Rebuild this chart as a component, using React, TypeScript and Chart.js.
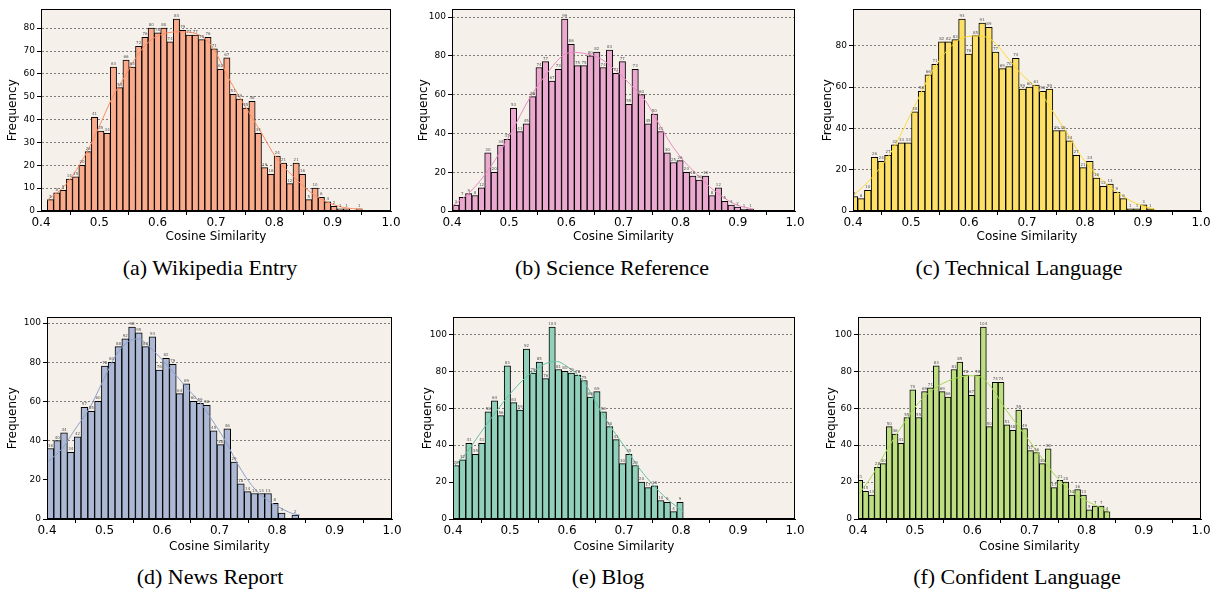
import React, { useEffect, useRef } from 'react';
import { Chart, registerables } from 'chart.js';
Chart.register(...registerables);

// ---------- shared tick labels ----------
const xTickValues = [0.4, 0.5, 0.6, 0.7, 0.8, 0.9, 1.0];
const yTicksWiki = [0, 10, 20, 30, 40, 50, 60, 70, 80];
const yTicksScience = [0, 20, 40, 60, 80, 100];
const yTicksTechnical = [0, 20, 40, 60, 80];
const yTicksNews = [0, 20, 40, 60, 80, 100];
const yTicksBlog = [0, 20, 40, 60, 80, 100];
const yTicksConfident = [0, 20, 40, 60, 80, 100];

// ---------- (a) Wikipedia Entry ----------
const wikiBinStart = 0.4108;
const wikiBinWidth = 0.0108;
const wikiCounts = [5, 8, 9, 14, 15, 20, 26, 41, 35, 34, 63, 54, 66, 63, 72, 76, 80, 78, 80, 74, 84, 79, 77, 77, 75, 76, 71, 62, 67, 51, 49, 45, 48, 34, 19, 16, 24, 21, 12, 21, 16, 5, 10, 6, 4, 2, 1, 1, 0, 1];
const wikiKdeX = [0.411, 0.444, 0.477, 0.499, 0.522, 0.544, 0.565, 0.587, 0.610, 0.638, 0.667, 0.693, 0.724, 0.747, 0.776, 0.804, 0.833, 0.861, 0.890, 0.918, 0.951];
const wikiKdeY = [4.8, 12, 25, 36.5, 49.5, 59, 68, 74.5, 77.5, 78.4, 77.5, 72, 57, 47, 35, 23, 15, 8.4, 4, 1.6, 0.7];

// ---------- (b) Science Reference ----------
const sciBinStart = 0.4012;
const sciBinWidth = 0.0112;
const sciCounts = [3, 7, 9, 8, 12, 30, 20, 34, 37, 53, 41, 45, 59, 74, 77, 67, 73, 99, 86, 75, 75, 80, 82, 74, 83, 71, 77, 55, 73, 60, 45, 50, 41, 30, 25, 26, 20, 18, 16, 18, 8, 12, 5, 3, 2, 1, 1];
const sciKdeX = [0.401, 0.432, 0.467, 0.502, 0.536, 0.571, 0.595, 0.612, 0.630, 0.659, 0.694, 0.711, 0.738, 0.758, 0.781, 0.805, 0.828, 0.851, 0.869, 0.898, 0.927];
const sciKdeY = [2.6, 9.9, 22.6, 39.6, 58.3, 72.8, 80.4, 81.8, 81.3, 78.7, 70.5, 65.5, 57, 47, 35.5, 26, 19, 12.4, 8.2, 3.1, 1];

// ---------- (c) Technical Language ----------
const techBinStart = 0.3965;
const techBinWidth = 0.0116;
const techCounts = [7, 6, 10, 26, 24, 27, 32, 33, 33, 48, 58, 66, 71, 82, 82, 83, 93, 76, 85, 91, 89, 77, 69, 70, 74, 59, 60, 61, 58, 59, 39, 39, 34, 27, 21, 24, 16, 12, 13, 9, 6, 1, 1, 3, 1];
const techKdeX = [0.398, 0.433, 0.467, 0.502, 0.536, 0.571, 0.594, 0.617, 0.640, 0.663, 0.688, 0.722, 0.745, 0.771, 0.791, 0.814, 0.837, 0.860, 0.883, 0.906, 0.921];
const techKdeY = [6.7, 16.3, 29.1, 48.3, 67.5, 80.3, 84.3, 84.8, 82.7, 75.5, 67, 57.9, 48, 37, 27.5, 19.5, 13.1, 8.3, 4.3, 1.9, 0.8];

// ---------- (d) News Report ----------
const newsBinStart = 0.4;
const newsBinWidth = 0.01183;
const newsCounts = [36, 40, 44, 34, 42, 57, 55, 60, 78, 80, 88, 92, 98, 95, 88, 93, 76, 82, 79, 64, 69, 60, 59, 58, 45, 38, 46, 29, 18, 14, 13, 13, 13, 8, 3, 0, 2];
const newsKdeX = [0.402, 0.426, 0.449, 0.473, 0.496, 0.519, 0.542, 0.560, 0.577, 0.600, 0.623, 0.646, 0.670, 0.686, 0.710, 0.733, 0.756, 0.779, 0.802, 0.826, 0.840];
const newsKdeY = [29.4, 35.8, 45.9, 56.1, 69.6, 83.1, 90.7, 91.9, 88.2, 81.4, 73.8, 66, 58, 51, 40, 27.4, 17.2, 10.5, 6.3, 2.9, 2];

// ---------- (e) Blog ----------
const blogBinStart = 0.4;
const blogBinWidth = 0.01122;
const blogCounts = [29, 32, 41, 35, 41, 58, 64, 56, 83, 63, 59, 92, 79, 85, 76, 104, 81, 80, 79, 78, 75, 66, 69, 58, 50, 43, 30, 35, 29, 20, 17, 18, 10, 9, 4, 9];
const blogKdeX = [0.400, 0.424, 0.453, 0.483, 0.512, 0.541, 0.570, 0.582, 0.600, 0.629, 0.658, 0.681, 0.705, 0.728, 0.751, 0.775, 0.804];
const blogKdeY = [28.1, 36.1, 48.7, 61.2, 71.9, 80, 85, 85.3, 82.6, 74.6, 59, 48, 37.5, 27, 18.5, 11, 4];

// ---------- (f) Confident Language ----------
const confBinStart = 0.3979;
const confBinWidth = 0.0103;
const confCounts = [21, 15, 13, 28, 30, 50, 46, 41, 55, 70, 55, 69, 71, 83, 69, 66, 81, 85, 78, 67, 78, 104, 50, 74, 74, 51, 48, 59, 49, 37, 36, 30, 38, 17, 21, 20, 13, 16, 13, 5, 7, 7, 4];
const confKdeX = [0.400, 0.425, 0.448, 0.477, 0.506, 0.535, 0.564, 0.594, 0.611, 0.634, 0.657, 0.680, 0.704, 0.727, 0.750, 0.774, 0.797, 0.815, 0.841];
const confKdeY = [12.9, 23.6, 36.1, 50.4, 63, 71, 75.5, 77.6, 77.3, 71, 60, 50.4, 40.6, 30.8, 21.8, 14.7, 10.2, 7.5, 3.9];

const captions = [
  '(a) Wikipedia Entry',
  '(b) Science Reference',
  '(c) Technical Language',
  '(d) News Report',
  '(e) Blog',
  '(f) Confident Language',
];

// ---------- styling / layout ----------
const PLOT_BG = '#f5f0ea';
const FONT = 'DejaVu Sans';

type Spec = {
  counts: number[];
  binStart: number;
  binWidth: number;
  kdeX: number[];
  kdeY: number[];
  yTicks: number[];
  fill: string;
  line: string;
  L: number; R: number; T: number; B: number;
  yTitleX: number; xTitleY: number;
};

const specs: Spec[] = [
  { counts: wikiCounts, binStart: wikiBinStart, binWidth: wikiBinWidth, kdeX: wikiKdeX, kdeY: wikiKdeY, yTicks: yTicksWiki,
    fill: 'rgb(250,171,139)', line: '#fc8d62', L: 41, R: 391, T: 8, B: 211, yTitleX: 14, xTitleY: 236 },
  { counts: sciCounts, binStart: sciBinStart, binWidth: sciBinWidth, kdeX: sciKdeX, kdeY: sciKdeY, yTicks: yTicksScience,
    fill: 'rgb(235,169,207)', line: '#e78ac3', L: 452, R: 795, T: 8, B: 211, yTitleX: 425, xTitleY: 236 },
  { counts: techCounts, binStart: techBinStart, binWidth: techBinWidth, kdeX: techKdeX, kdeY: techKdeY, yTicks: yTicksTechnical,
    fill: 'rgb(252,224,103)', line: '#ffd92f', L: 853, R: 1201, T: 8, B: 211, yTitleX: 829, xTitleY: 236 },
  { counts: newsCounts, binStart: newsBinStart, binWidth: newsBinWidth, kdeX: newsKdeX, kdeY: newsKdeY, yTicks: yTicksNews,
    fill: 'rgb(172,184,212)', line: '#8da0cb', L: 47, R: 392, T: 316, B: 519, yTitleX: 14, xTitleY: 546 },
  { counts: blogCounts, binStart: blogBinStart, binWidth: blogBinWidth, kdeX: blogKdeX, kdeY: blogKdeY, yTicks: yTicksBlog,
    fill: 'rgb(145,208,186)', line: '#66c2a5', L: 453, R: 795, T: 316, B: 519, yTitleX: 429, xTitleY: 546 },
  { counts: confCounts, binStart: confBinStart, binWidth: confBinWidth, kdeX: confKdeX, kdeY: confKdeY, yTicks: yTicksConfident,
    fill: 'rgb(190,223,129)', line: '#a6d854', L: 858, R: 1201, T: 316, B: 519, yTitleX: 833, xTitleY: 546 },
];

const captionPos = [
  { cx: 210, cy: 268 }, { cx: 612, cy: 268 }, { cx: 1019, cy: 268 },
  { cx: 210, cy: 577 }, { cx: 608, cy: 577 }, { cx: 1017, cy: 577 },
];

function Panel({ spec }: { spec: Spec }) {
  const ref = useRef<HTMLCanvasElement>(null);
  const left = spec.yTitleX - 8;
  const top = spec.T - 6;
  const width = spec.R + 12 - left;
  const height = spec.xTitleY + 8 - top;
  const yW = spec.L - left;
  const xH = spec.xTitleY + 8 - spec.B;

  useEffect(() => {
    if (!ref.current) return;
    const bars = spec.counts.map((c, i) => ({ x: spec.binStart + (i + 0.5) * spec.binWidth, y: c }));
    const kde = spec.kdeX.map((x, i) => ({ x, y: spec.kdeY[i] }));
    const yMax = Math.max(...spec.counts) * 1.05;

    const bgPlugin = {
      id: 'plotBg',
      beforeDraw(chart: any) {
        const { ctx, chartArea: a } = chart;
        ctx.save();
        ctx.fillStyle = PLOT_BG;
        ctx.fillRect(a.left, a.top, a.right - a.left, a.bottom - a.top);
        ctx.restore();
      },
    };
    const labelPlugin = {
      id: 'barLabels',
      afterDatasetsDraw(chart: any) {
        const { ctx } = chart;
        const meta = chart.getDatasetMeta(1);
        ctx.save();
        ctx.font = `4px "${FONT}"`;
        ctx.fillStyle = '#555';
        ctx.textAlign = 'center';
        ctx.textBaseline = 'bottom';
        meta.data.forEach((el: any, i: number) => {
          const v = spec.counts[i];
          if (!v) return;
          const a = chart.chartArea;
          if (el.x < a.left || el.x > a.right) return;
          ctx.fillText(String(v), el.x, el.y - 1);
        });
        ctx.restore();
        // spines
        const a = chart.chartArea;
        ctx.save();
        ctx.strokeStyle = '#000';
        ctx.lineWidth = 1;
        ctx.strokeRect(Math.round(a.left) + 0.5, Math.round(a.top) + 0.5, Math.round(a.right - a.left) - 1, Math.round(a.bottom - a.top) - 1);
        ctx.restore();
      },
    };

    const chart = new Chart(ref.current, {
      type: 'bar',
      data: {
        datasets: [
          {
            type: 'line',
            data: kde as any,
            borderColor: spec.line,
            borderWidth: 1,
            pointRadius: 0,
            tension: 0.4,
            cubicInterpolationMode: 'monotone',
            order: 0,
          } as any,
          {
            type: 'bar',
            data: bars as any,
            backgroundColor: spec.fill,
            borderColor: '#000',
            borderWidth: 1,
            barPercentage: 1,
            categoryPercentage: 1,
            order: 1,
          } as any,
        ],
      },
      options: {
        responsive: false,
        animation: false,
        events: [],
        layout: { padding: { left: 0, top: 6, right: 12, bottom: 0 } },
        plugins: { legend: { display: false }, tooltip: { enabled: false } },
        scales: {
          x: {
            type: 'linear',
            min: 0.4,
            max: 1.0,
            offset: false,
            afterFit: (s: any) => { s.height = xH; },
            afterBuildTicks: (s: any) => { s.ticks = xTickValues.map((v) => ({ value: v })); },
            ticks: {
              callback: (v: any) => Number(v).toFixed(1),
              font: { family: FONT, size: 12 },
              color: '#000',
              padding: 1,
              maxRotation: 0,
              autoSkip: false,
            },
            grid: { drawOnChartArea: false, drawTicks: true, tickLength: 4, tickColor: '#000', tickWidth: 1 },
            border: { display: true, color: '#000', width: 1 },
            title: { display: true, text: 'Cosine Similarity', font: { family: FONT, size: 12 }, color: '#000', padding: 0 },
          } as any,
          y: {
            min: 0,
            max: yMax,
            afterFit: (s: any) => { s.width = yW; },
            afterBuildTicks: (s: any) => { s.ticks = spec.yTicks.map((v) => ({ value: v })); },
            ticks: { font: { family: FONT, size: 9 }, color: '#000', padding: 2 },
            grid: { color: 'rgba(70,70,70,0.85)', lineWidth: 0.8, drawTicks: true, tickLength: 4, tickColor: '#000', tickWidth: 1, tickBorderDash: [] },
            border: { display: true, color: '#000', width: 1, dash: [2, 2] },
            title: { display: true, text: 'Frequency', font: { family: FONT, size: 12 }, color: '#000', padding: 0 },
          } as any,
        },
      },
      plugins: [bgPlugin, labelPlugin],
    });
    return () => chart.destroy();
  }, []);

  return (
    <canvas
      ref={ref}
      width={width}
      height={height}
      style={{ position: 'absolute', left, top, width, height }}
    />
  );
}

export default function App() {
  return (
    <div style={{ position: 'absolute', left: 0, top: 0, width: 1218, height: 592, background: '#fff', overflow: 'hidden' }}>
      {specs.map((s, i) => (
        <Panel key={i} spec={s} />
      ))}
      {captions.map((c, i) => (
        <div
          key={'c' + i}
          style={{
            position: 'absolute',
            left: captionPos[i].cx - 160,
            top: captionPos[i].cy - 13,
            width: 320,
            height: 26,
            lineHeight: '26px',
            textAlign: 'center',
            fontFamily: '"Liberation Serif", serif',
            fontSize: 22,
            color: '#000',
          }}
        >
          {c}
        </div>
      ))}
    </div>
  );
}
